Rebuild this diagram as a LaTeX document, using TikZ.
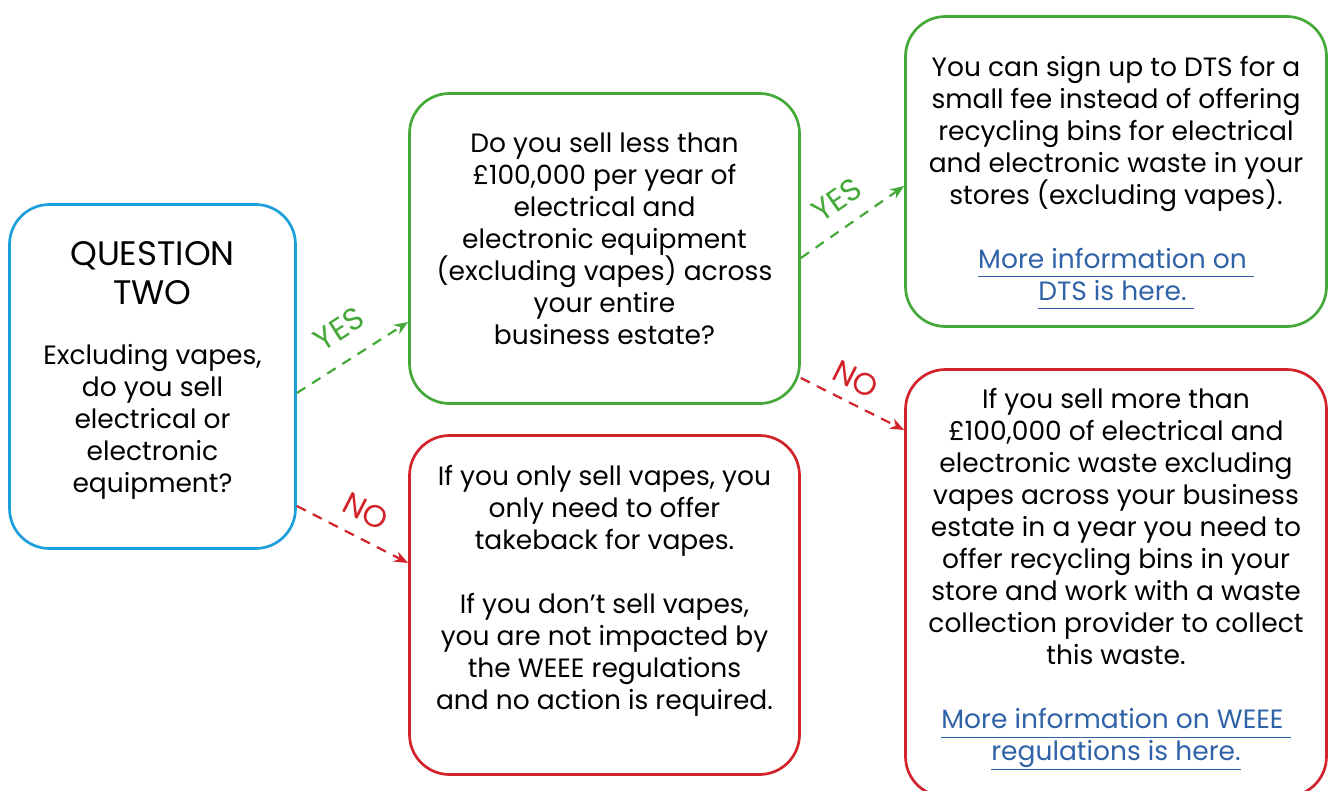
\documentclass[tikz,border=0pt]{standalone}
\usepackage{fontspec}
\setmainfont{Poppins}
\usetikzlibrary{arrows.meta}

\definecolor{qblue}{HTML}{1D9FDB}
\definecolor{okgreen}{HTML}{45A939}
\definecolor{nored}{HTML}{D2232A}
\definecolor{linkblue}{HTML}{2F62A6}

\newcommand{\weblink}[1]{{\color{linkblue}\underline{\vphantom{g}#1}}}
\newcommand{\titlesize}{\fontsize{34}{39}\selectfont}

\tikzset{
  card/.style={draw=#1, line width=2.7pt, rounded corners=40pt, inner sep=0pt},
  body/.style={align=center, inner sep=0pt, font=\fontsize{26.5}{32}\selectfont},
  answer/.style={draw=#1, line width=2.2pt, dash pattern=on 10pt off 8pt,
    -{Stealth[length=14pt,width=11pt]}},
  tag/.style={auto, sloped, text=#1, font=\fontsize{31}{31}\selectfont}
}

\begin{document}
\begin{tikzpicture}[x=1pt, y=-1pt]
  \useasboundingbox (0,0) rectangle (1328,790);

  \node (q) [card=qblue, minimum width=286pt, minimum height=344pt] at (152.5,376.5) {};
  \node (less) [card=okgreen, minimum width=390pt, minimum height=310pt] at (604.5,248.5) {};
  \node (onlyvapes) [card=nored, minimum width=390pt, minimum height=339pt] at (604.5,605) {};
  \node (dts) [card=okgreen, minimum width=421pt, minimum height=310pt] at (1116,171.5) {};
  \node (weee) [card=nored, minimum width=421pt, minimum height=427pt] at (1116,583) {};

  \node (q-text) [body] at (152.5,370.5)
    {\titlesize QUESTION\\[7pt]\titlesize TWO\\[28pt]
     Excluding vapes,\\do you sell\\electrical or\\electronic\\equipment?};
  \node (less-text) [body] at (604.5,238.5)
    {Do you sell less than\\\pounds100,000 per year of\\electrical and\\electronic equipment\\
     (excluding vapes) across\\your entire\\business estate?};
  \node (onlyvapes-text) [body] at (604.5,591)
    {If you only sell vapes, you\\only need to offer\\takeback for vapes.\\[32pt]
     If you don’t sell vapes,\\you are not impacted by\\the WEEE regulations\\and no action is required.};
  \node (dts-text) [body] at (1116,182.5)
    {You can sign up to DTS for a\\small fee instead of offering\\recycling bins for electrical\\
     and electronic waste in your\\stores (excluding vapes).\\[32pt]
     \weblink{More information on\ }\\\weblink{DTS is here.\ }};
  \node (weee-text) [body] at (1116,579)
    {If you sell more than\\\pounds100,000 of electrical and\\electronic waste excluding\\
     vapes across your business\\estate in a year you need to\\offer recycling bins in your\\
     store and work with a waste\\collection provider to collect\\this waste.\\[32pt]
     \weblink{More information on WEEE\ }\\\weblink{regulations is here.}};

  \path
  ([yshift=-16.5pt]q.east) edge[answer=okgreen]
    node[tag=okgreen, pos=0.53, inner sep=19pt] {YES} ([yshift=-73.5pt]less.west)
  ([yshift=-129.5pt]q.east) edge[answer=nored]
    node[tag=nored, pos=0.51, inner sep=14pt] {NO} ([yshift=42pt]onlyvapes.west)
  ([yshift=-9.5pt]less.east) edge[answer=okgreen]
    node[tag=okgreen, pos=0.5, inner sep=15pt] {YES} ([yshift=-14.5pt]dts.west)
  ([yshift=-129.5pt]less.east) edge[answer=nored]
    node[tag=nored, pos=0.43, inner sep=11pt] {NO} ([yshift=153pt]weee.west)
  ;
\end{tikzpicture}
\end{document}
